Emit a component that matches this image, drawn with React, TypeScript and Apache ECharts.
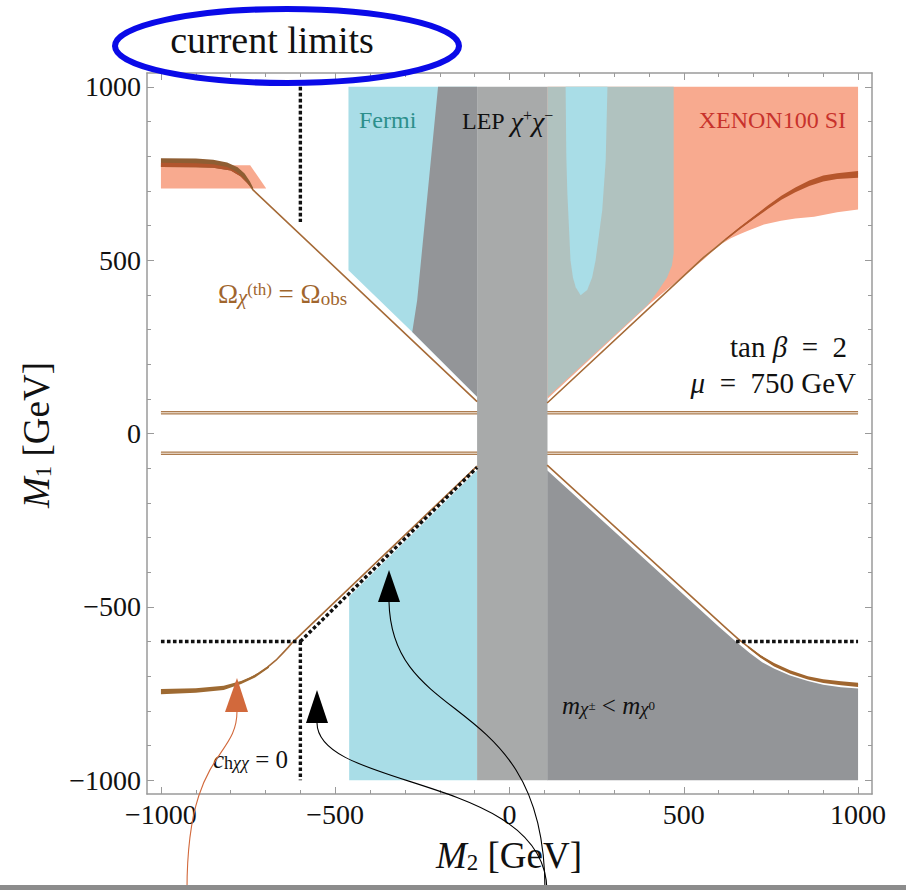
import React, { useEffect, useRef } from 'react';
import * as echarts from 'echarts';

const SERIF = "'Liberation Serif', 'Times New Roman', serif";

// ---------- axis ticks ----------
const majorTicks = [-1000, -500, 0, 500, 1000];
const minorTicks = [-900, -800, -700, -600, -400, -300, -200, -100, 100, 200, 300, 400, 600, 700, 800, 900];

// ---------- shaded regions, points are [M2, M1] in GeV ----------
const fermiUpper = [[-462, 1000], [-93, 1000], [-93, 106], [-279, 293], [-462, 471]];
const fermiLower = [[-460, -1000], [-93, -1000], [-93, -106], [-460, -470]];
const fermiTongue = [[161, 1000], [163, 800], [166, 693], [175, 500], [182, 450], [190, 422], [204, 399], [223, 414], [237, 450], [247, 500], [266, 644], [276, 788], [281, 1000]];
const overlapUpperRight = [[109, 1000], [471, 1000], [471, 520], [466, 485], [452, 450], [425, 410], [397, 372], [109, 105]];
const xenonUpperRight = [[109, 1000], [1000, 1000], [1000, 646], [940, 638], [874, 625], [820, 620], [779, 614], [730, 603], [684, 585], [660, 575], [635, 563], [610, 548], [586, 529], [560, 505], [540, 488], [400, 372], [109, 100]];
const xenonUpperLeft = [[-1000, 774], [-744, 774], [-698, 707], [-1000, 707]];
const lepUpperLeft = [[-205, 1000], [-93, 1000], [-93, 106], [-279, 293], [-265, 384]];
const massOrderLowerRight = [[108, -106], [600, -557], [650, -601], [690, -634], [725, -660], [760, -679], [805, -698], [856, -714], [900, -725], [951, -732], [1000, -736], [1000, -1000], [108, -1000]];
const lepBand = [[-93, 1000], [109, 1000], [109, -1000], [-93, -1000]];

// ---------- relic density curves ----------
const omegaUpperLeft = [[-775, 750], [-753, 728], [-736, 703], [-93, 92]];
const omegaUpperRight = [[108, 88], [557, 508], [590, 535], [620, 560], [660, 592], [700, 622], [740, 652], [780, 680], [820, 703], [860, 722], [900, 735], [930, 742], [970, 747], [1000, 750]];
const omegaLowerLeft = [[-800, -727], [-770, -718], [-744, -706], [-720, -692], [-695, -675], [-670, -654], [-649, -632], [-635, -617], [-621, -601], [-93, -94]];
const omegaLowerRight = [[108, -91], [626, -566], [655, -592], [684, -615], [720, -643], [759, -667], [805, -688], [856, -705], [900, -714], [951, -720], [1000, -725]];
const funnelUpper = [[-1000, 60], [1000, 60]];
const funnelLower = [[-1000, -57], [1000, -57]];

// thick parts of the relic curves (upper edge then lower edge)
const bandULdark = [[-1000, 794], [-900, 793], [-850, 790], [-810, 782], [-780, 768], [-760, 750], [-745, 728], [-736, 710], [-736, 704], [-752, 722], [-772, 742], [-800, 759], [-850, 767], [-900, 768], [-1000, 769]];
const bandULred = [[-1000, 781], [-900, 780], [-850, 777], [-810, 769], [-785, 756], [-765, 740], [-750, 722], [-738, 706], [-736, 704], [-752, 722], [-772, 742], [-800, 759], [-850, 767], [-900, 768], [-1000, 769]];
const bandUR = [[620, 562], [660, 595], [700, 626], [740, 657], [780, 686], [820, 710], [860, 730], [900, 744], [940, 751], [1000, 757], [1000, 738], [940, 734], [900, 727], [860, 714], [820, 696], [780, 674], [740, 647], [700, 618], [660, 589], [620, 558]];
const bandLL = [[-1000, -737], [-900, -735], [-820, -728], [-770, -714], [-730, -697], [-690, -670], [-690, -676], [-730, -704], [-770, -723], [-820, -740], [-900, -748], [-1000, -752]];
const bandLR = [[684, -612], [720, -639], [759, -662], [805, -683], [856, -700], [900, -709], [951, -715], [1000, -719], [1000, -731], [951, -726], [900, -720], [856, -710], [805, -693], [759, -672], [720, -647], [684, -618]];

// ---------- c_hxx = 0 dotted lines ----------
const chxxDiag = [[-600, -600], [-93, -98]];
const chxxLowLeftH = [[-1000, -600], [-600, -600]];
const chxxLowLeftV = [[-600, -600], [-600, -1000]];
const chxxUpperV = [[-600, 1000], [-600, 610]];
const chxxLowRightH = [[650, -600], [1000, -600]];

const AX = '#9a9a9a';
const fmt = (v: number) => (v < 0 ? '\u2212' + Math.abs(v) : String(v));

function mkAxis(position: string, major: boolean, withLabel: boolean) {
  return {
    type: 'value',
    position,
    min: -1040,
    max: 1040,
    axisLine: { show: major, onZero: false, lineStyle: { color: AX, width: 1.5 } },
    axisTick: {
      show: true,
      inside: true,
      length: major ? 7 : 4,
      customValues: major ? majorTicks : minorTicks,
      lineStyle: { color: AX, width: 1 },
    },
    axisLabel: withLabel
      ? { show: true, customValues: majorTicks, formatter: fmt, fontFamily: SERIF, fontSize: 28, color: '#111', margin: 6 }
      : { show: false },
    splitLine: { show: false },
  };
}

function area(name: string, pts: number[][], fill: string, z: number) {
  return {
    name,
    type: 'custom',
    coordinateSystem: 'cartesian2d',
    xAxisIndex: 0,
    yAxisIndex: 0,
    data: pts,
    silent: true,
    z,
    renderItem: (params: any, api: any) =>
      params.dataIndex === 0
        ? { type: 'polygon', shape: { points: pts.map((p) => api.coord(p)) }, style: { fill } }
        : null,
  };
}

function curve(name: string, pts: number[][], color: string, width: number, z: number, extra: any = {}) {
  return {
    name,
    type: 'line',
    data: pts,
    xAxisIndex: 0,
    yAxisIndex: 0,
    showSymbol: false,
    symbol: 'none',
    silent: true,
    z,
    smooth: false,
    lineStyle: { color, width, type: extra.type ?? 'solid', cap: 'butt', join: 'round' },
  };
}

const BROWN = '#a56a37';
const DOT = '#111111';
const DASH = [3.6, 2.4];

function rt(fs: number, extra: any = {}) {
  return { fontFamily: SERIF, fontSize: fs, ...extra };
}

function txt(x: number, y: number, text: string, rich: any, fill: string, align = 'left', fs = 24, extra: any = {}) {
  return {
    type: 'text',
    x,
    y,
    z: 100,
    silent: true,
    ...extra,
    style: { text, rich, fill, align, verticalAlign: 'middle', fontFamily: SERIF, fontSize: fs },
  };
}

function withFill(rich: any, fill: string) {
  const out: any = {};
  Object.keys(rich).forEach((k) => (out[k] = { ...rich[k], fill }));
  return out;
}

const ORANGE = '#d2693c';
const EQ = '\u2002=\u2002';

const option: any = {
  animation: false,
  backgroundColor: '#ffffff',
  grid: { left: 147, right: 34, top: 73, bottom: 96, containLabel: false },
  xAxis: [mkAxis('bottom', true, true), mkAxis('bottom', false, false), mkAxis('top', true, false), mkAxis('top', false, false)],
  yAxis: [mkAxis('left', true, true), mkAxis('left', false, false), mkAxis('right', true, false), mkAxis('right', false, false)],
  series: [
    area('Fermi upper', fermiUpper, '#a9dde7', 2),
    area('Fermi lower', fermiLower, '#a9dde7', 2),
    area('XENON100 SI upper right', xenonUpperRight, '#f8aa8f', 3),
    area('Fermi + LEP overlap', overlapUpperRight, '#b0c2bf', 4),
    area('Fermi tongue', fermiTongue, '#a9dde7', 5),
    area('LEP upper left', lepUpperLeft, '#939598', 5),
    area('m chargino < m neutralino', massOrderLowerRight, '#939598', 5),
    area('XENON100 SI upper left', xenonUpperLeft, '#f8aa8f', 5),
    curve('funnel upper a', funnelUpper, '#ad7c4f', 3.4, 6),
    curve('funnel upper b', funnelUpper, '#f3e9de', 1.1, 7),
    curve('funnel lower a', funnelLower, '#ad7c4f', 3.4, 6),
    curve('funnel lower b', funnelLower, '#f3e9de', 1.1, 7),
    area('LEP chargino band', lepBand, '#a8aaaa', 8),
    curve('relic upper left', omegaUpperLeft, BROWN, 1.6, 9),
    curve('relic upper right', omegaUpperRight, BROWN, 1.6, 9),
    curve('relic lower left', omegaLowerLeft, BROWN, 1.6, 9),
    curve('relic lower right', omegaLowerRight, BROWN, 1.6, 9),
    area('relic band UL dark', bandULdark, '#8f5e33', 10),
    area('relic band UL red', bandULred, '#b2552d', 11),
    area('relic band UR', bandUR, '#b6562c', 10),
    area('relic band LL', bandLL, '#9e6a32', 10),
    area('relic band LR', bandLR, '#a0662f', 10),
    curve('chxx diag', chxxDiag, DOT, 3.4, 12, { type: DASH }),
    curve('chxx LL h', chxxLowLeftH, DOT, 3.4, 12, { type: DASH }),
    curve('chxx LL v', chxxLowLeftV, DOT, 3.4, 12, { type: DASH }),
    curve('chxx upper v', chxxUpperV, DOT, 3.4, 12, { type: DASH }),
    curve('chxx LR h', chxxLowRightH, DOT, 3.4, 12, { type: DASH }),
  ],
  graphic: [
    // axis titles
    txt(509, 855, '{i|M}{s|2}{n| [GeV]}', {
      i: rt(37, { fontStyle: 'italic', fill: '#111' }),
      s: rt(23, { verticalAlign: 'bottom', lineHeight: 12, fill: '#111' }),
      n: rt(37, { fill: '#111' }),
    }, '#111', 'center', 37),
    txt(36, 435, '{i|M}{s|1}{n| [GeV]}', {
      i: rt(37, { fontStyle: 'italic', fill: '#111' }),
      s: rt(23, { verticalAlign: 'bottom', lineHeight: 12, fill: '#111' }),
      n: rt(37, { fill: '#111' }),
    }, '#111', 'center', 37, { rotation: Math.PI / 2 }),
    // top annotation
    {
      type: 'ellipse',
      z: 100,
      shape: { cx: 287, cy: 46, rx: 172, ry: 37 },
      style: { fill: 'none', stroke: '#0a0ae8', lineWidth: 6 },
    },
    txt(272, 40, 'current limits', null, '#111', 'center', 38),
    // region labels
    txt(359, 120, 'Fermi', null, '#2c8f8c', 'left', 24),
    txt(462, 121, '{n|LEP }{c|\u03c7}{p|+}{c|\u03c7}{p|\u2212}', withFill({
      n: rt(24),
      c: rt(28, { fontStyle: 'italic' }),
      p: rt(16, { verticalAlign: 'top', lineHeight: 8 }),
    }, '#111'), '#111', 'left', 24),
    txt(846, 120, 'XENON100 SI', null, '#c8322c', 'right', 24),
    txt(847, 347, '{n|tan }{b|\u03b2}{n|' + EQ + '2}', withFill({ n: rt(29), b: rt(29, { fontStyle: 'italic' }) }, '#111'), '#111', 'right', 29),
    txt(856, 383, '{b|\u03bc}{n|' + EQ + '750 GeV}', withFill({ n: rt(29), b: rt(29, { fontStyle: 'italic' }) }, '#111'), '#111', 'right', 29),
    txt(218, 294, '{o|\u03a9}{c|\u03c7}{p|(th)}{o| = \u03a9}{s|obs}', withFill({
      o: rt(27),
      c: rt(21, { fontStyle: 'italic', verticalAlign: 'bottom', lineHeight: 8 }),
      p: rt(17, { verticalAlign: 'top', lineHeight: 10 }),
      s: rt(19, { verticalAlign: 'bottom', lineHeight: 10 }),
    }, '#a0652d'), '#a0652d', 'left', 27),
    txt(213, 759, '{c|c}{h|h}{x|\u03c7\u03c7}{n| = 0}', withFill({
      c: rt(25, { fontStyle: 'italic' }),
      h: rt(18, { verticalAlign: 'bottom', lineHeight: 8 }),
      x: rt(18, { fontStyle: 'italic', verticalAlign: 'bottom', lineHeight: 8 }),
      n: rt(25),
    }, '#111'), '#111', 'left', 25),
    txt(562, 705, '{m|m}{x|\u03c7}{p|\u00b1}{n| < }{m|m}{x|\u03c7}{p|0}', withFill({
      m: rt(25, { fontStyle: 'italic' }),
      x: rt(19, { fontStyle: 'italic', verticalAlign: 'bottom', lineHeight: 6 }),
      p: rt(13, { verticalAlign: 'middle' }),
      n: rt(25),
    }, '#111'), '#111', 'left', 25),
    // arrows
    {
      type: 'bezierCurve', z: 100,
      shape: { x1: 187, y1: 890, cpx1: 187, cpy1: 750, cpx2: 237, cpy2: 760, x2: 237, y2: 711 },
      style: { stroke: ORANGE, lineWidth: 1.1, fill: 'none' },
    },
    { type: 'polygon', z: 100, shape: { points: [[237, 678], [225, 712], [248, 712]] }, style: { fill: ORANGE } },
    {
      type: 'bezierCurve', z: 100,
      shape: { x1: 547, y1: 890, cpx1: 545, cpy1: 775, cpx2: 318, cpy2: 790, x2: 317, y2: 723 },
      style: { stroke: '#000', lineWidth: 1.1, fill: 'none' },
    },
    { type: 'polygon', z: 100, shape: { points: [[317, 690], [306, 723], [328, 723]] }, style: { fill: '#000' } },
    {
      type: 'bezierCurve', z: 100,
      shape: { x1: 545, y1: 890, cpx1: 545, cpy1: 690, cpx2: 392, cpy2: 730, x2: 389, y2: 602 },
      style: { stroke: '#000', lineWidth: 1.1, fill: 'none' },
    },
    { type: 'polygon', z: 100, shape: { points: [[389, 570], [378, 602], [400, 602]] }, style: { fill: '#000' } },
    // bottom rule
    { type: 'rect', z: 100, shape: { x: 0, y: 885, width: 906, height: 5 }, style: { fill: '#8c8c8c' } },
  ],
};

export default function App() {
  const ref = useRef<HTMLDivElement>(null);
  useEffect(() => {
    const chart = echarts.init(ref.current!, null, { renderer: 'svg' });
    chart.setOption(option);
    return () => chart.dispose();
  }, []);
  return (
    <div
      ref={ref}
      style={{ position: 'fixed', left: 0, top: 0, width: 906, height: 890, background: '#fff' }}
    />
  );
}
